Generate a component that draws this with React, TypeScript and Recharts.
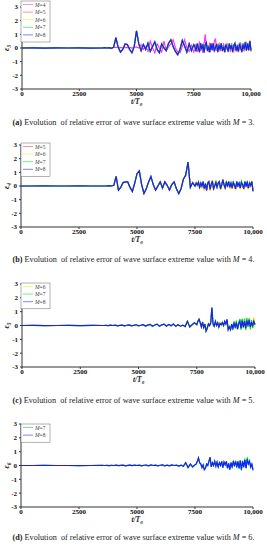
import React from "react";
import { LineChart, Line, XAxis, YAxis } from "recharts";

// time grid: coarse where nothing happens, finer where the error gets noisy
const tGrid: number[] = [];
for (let t = 0; t <= 3500; t += 500) tGrid.push(t);
for (let t = 3600; t <= 7500; t += 100) tGrid.push(t);
for (let t = 7550; t <= 10000; t += 50) tGrid.push(t);

const xTicks = [0, 2500, 5000, 7500, 10000];
const yTicks = [-3, -2, -1, 0, 1, 2, 3];

// ---- panel (a), M = 3
const aM8 = [
  0, 0.01, -0.01, 0.01, 0, 0.01, -0.01, 0,
  0.02, 0, 0.03, -0.02, 0.05, 0.75, 0.05, -0.3, -0.1, 0.3, 0.25, -0.1, -0.35, 0.1,
  1.25, 0.3, -0.2, 0.25, -0.1, 0.35, -0.25, 0.1, 0.45, -0.1,
  -0.35, 0.3, 0, -0.2, 0.35, 0.6, 0.1, -0.25, -0.5, -0.1,
  0.55, 0.15, -0.3, 0.3, -0.2, 0.25,
  0.1, -0.25, 0.3, 0, -0.3, 0.35, -0.1, 0.25, -0.35, 0.2,
  0.4, -0.2, 0.1, -0.3, 0.3, -0.15, 0.35, -0.25, 0.05, 0.3,
  -0.3, 0.2, -0.1, 0.35, -0.2, 0.1, -0.3, 0.25, 0, -0.25,
  0.3, -0.1, 0.2, -0.3, 0.15, 0.35, -0.2, 0.1, -0.25, 0.3,
  0, -0.3, 0.25, -0.1, 0.4, -0.2, 0.3, -0.15, 0.5, -0.2,
];
const aM4Tail = [
  0.05, 0.03, 0.05, 0.02, 0.05, 0.03, 0.05, 0, 0.05,
  0.08, 0, 0.25, -0.1, 0.1, -0.25, 0.5, 0, -0.35, 0.3,
  0, -0.3, 0.5, -0.2, 0.1, 0.3, 0.6, 0, -0.3, -0.35,
  0.1, 0.6, 0, -0.25, 0.2, -0.3,
  -0.1, 0.3, -0.3, 0.2, 0.4, -0.2, 0.1, -0.35, 0.3, 1.0,
  -0.1, 0.2, -0.3, 0.4, 0, 0.3, -0.2, 0.5, 0.7, -0.2,
  0.1, 0.3, -0.25, 0.2, -0.1, 0.35, -0.3, 0.1, 0.3, -0.2,
  0.2, -0.3, 0.35, 0, -0.2, 0.3, -0.1, 0.25, -0.3, 0.2,
  0.35, -0.1, 0.3, -0.25, 0.2, 0.45, -0.1, 0.3, 0.1, -0.1,
];
const aM5Tail = [
  0.15, -0.2, 0.35, -0.05, -0.25, 0.3, -0.15, 0.3, -0.3, 0.25,
  0.35, -0.25, 0.2, -0.25, 0.35, -0.1, 0.3, -0.3, 0.1, 0.25,
  -0.25, 0.3, -0.15, 0.3, -0.25, 0.15, -0.25, 0.3, 0.05, -0.3,
  0.35, -0.05, 0.25, -0.25, 0.2, 0.3, -0.25, 0.15, -0.3, 0.35,
  0.05, -0.25, 0.3, -0.15, 0.45, -0.15, 0.35, -0.2, 0.55, -0.25,
];
const aM6Tail = [
  0.05, -0.3, 0.25, 0.05, -0.35, 0.4, -0.05, 0.2, -0.3, 0.3,
  0.3, -0.15, 0.15, -0.35, 0.25, -0.2, 0.4, -0.2, 0, 0.35,
  -0.35, 0.25, -0.05, 0.4, -0.15, 0.05, -0.35, 0.2, 0.1, -0.2,
  0.25, -0.15, 0.3, -0.35, 0.1, 0.4, -0.15, 0.05, -0.2, 0.25,
  -0.05, -0.35, 0.2, -0.05, 0.35, -0.25, 0.4, -0.1, 0.6, -0.3,
];
const aM7Tail = [
  0.1, -0.2, 0.3, 0.05, -0.3, 0.3, -0.1, 0.3, -0.3, 0.25,
  0.35, -0.2, 0.15, -0.3, 0.3, -0.1, 0.3, -0.2, 0.1, 0.25,
  -0.25, 0.25, -0.1, 0.3, -0.15, 0.2, -0.3, 0.2, 0.1, -0.2,
  0.35, -0.05, 0.2, -0.25, 0.25, 0.3, -0.15, 0.2, -0.25, 0.4,
  0.05, -0.25, 0.35, -0.05, 0.45, -0.15, 0.35, -0.1, 0.5, -0.15,
];

// ---- panel (b), M = 4
const bM8 = [
  0, 0, 0.01, 0, 0, 0.01, 0, 0,
  0, 0.01, 0.03, 0, 0.05, 0.7, -0.3, -0.1, 0.25, 0.3, 0.3, -0.1, -0.4, 0.2,
  0.9, 1.1, 0.1, -0.55, -0.2, 0.3, 0.7, 0.1, -0.3, 0,
  0.3, -0.15, 0.3, 0.05, -0.3, 0.1, 0.3, -0.2, -0.55, -0.2,
  0.5, 0.8, 1.75, -0.1, 0.25, 0,
  0.2, 0.1, 0.25, -0.1, 0.2, 0, 0.3, -0.2, 0.15, -0.3,
  0.2, 0.3, -0.25, 0.1, 0.35, -0.2, 0, 0.25, -0.1, 0.2,
  0.3, -0.2, 0.05, 0.45, 0.1, -0.15, 0.25, 0, 0.3, -0.1,
  0.2, -0.15, 0.25, 0.05, -0.2, 0.3, 0, 0.2, -0.15, 0.25,
  0.1, -0.2, 0.3, 0, 0.25, -0.15, 0.2, 0.05, 0.3, -0.4,
];
const bM5Tail = [
  0.25, 0.05, 0.3, -0.15, 0.25, -0.05, 0.3, -0.3, 0.2, -0.35,
  0.25, 0.35, -0.3, 0.15, 0.4, -0.25, 0.05, 0.3, -0.15, 0.25,
  0.35, -0.25, 0.1, 0.5, 0.05, -0.2, 0.3, -0.05, 0.35, -0.15,
  0.25, -0.2, 0.3, 0, -0.25, 0.35, -0.05, 0.25, -0.2, 0.3,
  0.15, -0.25, 0.35, -0.05, 0.3, -0.2, 0.25, 0, 0.35, -0.35,
];
const bM6Tail = [
  0.15, 0.15, 0.2, -0.2, 0.15, 0.05, 0.25, -0.3, 0.1, -0.25,
  0.15, 0.25, -0.35, 0.05, 0.3, -0.3, 0.05, 0.2, -0.2, 0.15,
  0.25, -0.3, 0, 0.4, 0.15, -0.25, 0.2, 0.05, 0.25, -0.2,
  0.15, -0.25, 0.2, 0.1, -0.3, 0.25, 0.05, 0.15, -0.25, 0.2,
  0.2, -0.3, 0.25, 0.05, 0.3, -0.25, 0.15, 0.1, 0.4, -0.3,
];
const bM7Tail = [
  0.2, 0.05, 0.3, -0.05, 0.25, -0.05, 0.35, -0.15, 0.2, -0.3,
  0.25, 0.3, -0.2, 0.15, 0.3, -0.15, 0.05, 0.3, -0.05, 0.25,
  0.3, -0.15, 0.1, 0.4, 0.15, -0.1, 0.3, 0.05, 0.35, -0.05,
  0.25, -0.1, 0.3, 0.1, -0.15, 0.35, 0.05, 0.25, -0.1, 0.35,
  0.1, -0.15, 0.35, 0.05, 0.3, -0.1, 0.25, 0.1, 0.35, -0.3,
];

// ---- panel (c), M = 5
const cM8 = [
  0, 0.01, -0.01, 0, 0.01, -0.01, 0.01, 0,
  0.01, -0.01, 0.02, 0, 0.02, -0.02, 0.01, 0.03, -0.02, 0.02, 0.04, -0.03, 0.02, 0.05,
  -0.03, 0.02, 0.06, -0.04, 0.03, 0.08, -0.05, 0.04, 0.1, -0.06,
  0.05, 0.1, -0.05, 0.08, -0.02, 0.1, -0.06, 0.05, -0.05, 0.03,
  -0.08, 0.3, -0.1, 0.05, 0.2, 0.05,
  0.3, 0.45, 0.2, -0.1, 0.25, -0.15, 0.1, -0.4, -0.2, 0.1,
  0, 0.2, 1.3, 0.1, -0.05, 0.3, 0, 0.2, -0.1, 0.15,
  0.05, 0.2, 0, 0.3, 0.1, 0.45, -0.3, -0.1, -0.3, 0.1,
  -0.2, 0.15, -0.1, 0.2, -0.25, 0.1, 0.3, -0.2, 0.35, -0.1,
  0.3, -0.2, 0.35, 0, 0.4, -0.1, 0.2, 0, 0.3, 0.05,
];
const cM6Tail = [
  0.3, 0.4, 0.1, -0.2, 0.3, -0.25, 0.15, -0.35, -0.3, 0.15,
  -0.05, 0.25, 1.2, 0, -0.1, 0.25, 0.05, 0.15, -0.15, 0.2,
  0, 0.25, -0.05, 0.25, 0.15, 0.4, -0.35, -0.05, -0.35, 0.15,
  -0.3, 0.25, -0.2, 0.3, -0.3, 0.2, 0.4, -0.3, 0.45, -0.2,
  0.45, -0.35, 0.5, -0.1, 0.55, -0.3, 0.35, -0.15, 0.6, -0.1,
];
const cM7Tail = [
  -0.3, 0.3, -0.2, 0.35, -0.3, 0.2, 0.45, -0.3, 0.5, -0.2,
  0.5, -0.3, 0.55, -0.1, 0.5, -0.25, 0.4, -0.2, 0.3, 0.1,
];

// ---- panel (d), M = 6
const dM8 = [
  0, 0, 0.01, 0, 0, -0.01, 0, 0.01,
  0, 0.01, -0.01, 0.01, 0, 0.02, -0.01, 0.01, 0.02, -0.02, 0.01, 0.02, -0.01, 0.02,
  0, 0.03, -0.02, 0.02, 0.03, -0.02, 0.04, 0, 0.03, -0.03,
  0.02, 0.04, -0.02, 0.03, -0.03, 0.04, 0, 0.02, -0.04, 0.03,
  -0.05, 0.2, -0.15, 0.1, -0.1, 0.05,
  0.1, 0.3, 0.55, 0.2, 0.1, -0.15, 0.05, -0.3, -0.2, 0.1,
  0, 0.3, 0.6, -0.1, 0.2, 0, 0.3, -0.05, 0.25, -0.1,
  0.2, 0, 0.3, -0.15, 0.25, 0.05, 0.3, -0.2, 0.15, -0.3,
  0.2, -0.1, 0.25, 0, 0.3, -0.1, 0.3, -0.2, 0.35, -0.3,
  0.3, -0.1, 0.4, -0.2, 0.45, 0.1, 0.3, -0.1, 0.1, -0.35,
];
const dM7Tail = [
  0.25, -0.15, 0.35, -0.05, 0.35, -0.2, 0.3, -0.25, 0.4, -0.35,
  0.35, -0.15, 0.5, -0.2, 0.6, 0.15, 0.35, -0.2, 0.15, -0.3,
];

// a variant equals the M=8 run until it splits off, then its own values
const follow = (base: number[], tail: number[]) => [
  ...base.slice(0, base.length - tail.length),
  ...tail,
];

const COLORS: Record<string, string> = {
  "4": "#ff33ff",
  "5": "#ff3a3a",
  "6": "#ffe600",
  "7": "#00d840",
  "8": "#1c1cff",
};

const panels = [
  {
    tag: "a", M: "3", left: 22, right: 251, top: 7, bottom: 89, legendTop: 1, caption: 122,
    series: {
      "4": follow(aM8, aM4Tail), "5": follow(aM8, aM5Tail), "6": follow(aM8, aM6Tail),
      "7": follow(aM8, aM7Tail), "8": aM8,
    } as Record<string, number[]>,
  },
  {
    tag: "b", M: "4", left: 21, right: 253, top: 145, bottom: 227, legendTop: 143, caption: 259,
    series: {
      "5": follow(bM8, bM5Tail), "6": follow(bM8, bM6Tail), "7": follow(bM8, bM7Tail), "8": bM8,
    } as Record<string, number[]>,
  },
  {
    tag: "c", M: "5", left: 22, right: 255, top: 284, bottom: 367, legendTop: 283, caption: 400,
    series: {
      "6": follow(cM8, cM6Tail), "7": follow(cM8, cM7Tail), "8": cM8,
    } as Record<string, number[]>,
  },
  {
    tag: "d", M: "6", left: 21, right: 253, top: 424, bottom: 507, legendTop: 424, caption: 537,
    series: { "7": follow(dM8, dM7Tail), "8": dM8 } as Record<string, number[]>,
  },
];

const FONT = "'Liberation Serif', 'DejaVu Serif', serif";
const tickStyle = { fontSize: 7, fontWeight: 700, fill: "#111", fontFamily: FONT };

function Panel({ p }: { p: (typeof panels)[number] }) {
  const keys = Object.keys(p.series);
  const rows = tGrid.map((t, i) => {
    const row: Record<string, number> = { t };
    keys.forEach((k) => (row["m" + k] = p.series[k][i]));
    return row;
  });
  const mt = 4;
  return (
    <div style={{ position: "absolute", left: 0, top: p.top - mt }}>
      <LineChart
        width={267}
        height={p.bottom - p.top + mt + 14}
        data={rows}
        margin={{ top: mt, right: 267 - p.right, bottom: 0, left: 0 }}
      >
        <XAxis
          dataKey="t"
          type="number"
          domain={[0, 10000]}
          ticks={xTicks}
          tickFormatter={(v) => (v === 10000 ? "10,000" : String(v))}
          tick={tickStyle}
          tickSize={2}
          tickMargin={0}
          height={14}
          stroke="#333"
          interval={0}
        />
        <YAxis
          type="number"
          domain={[-3, 3]}
          ticks={yTicks}
          tick={tickStyle}
          tickSize={2}
          tickMargin={2}
          width={p.left}
          stroke="#333"
          interval={0}
          allowDataOverflow
        />
        {keys.map((k) => (
          <Line
            key={k}
            dataKey={"m" + k}
            stroke={COLORS[k]}
            strokeWidth={1.2}
            dot={false}
            isAnimationActive={false}
            type="linear"
          />
        ))}
      </LineChart>
    </div>
  );
}

function Labels({ p }: { p: (typeof panels)[number] }) {
  const keys = Object.keys(p.series);
  const zeroY = (p.top + p.bottom) / 2;
  const rowH = 7.6;
  return (
    <g fontFamily={FONT}>
      <text
        transform={`translate(9, ${zeroY}) rotate(-90)`}
        textAnchor="middle"
        fontSize={8}
        fontWeight={700}
        fontStyle="italic"
        fill="#222"
      >
        ε<tspan fontSize={5.5} dy={2}>{p.M}</tspan>
      </text>
      <text x={(p.left + p.right) / 2} y={p.bottom + 15} textAnchor="middle" fontSize={7.5} fontWeight={700} fontStyle="italic" fill="#222">
        t/T<tspan fontSize={5} dy={2}>0</tspan>
      </text>
      <rect x={21} y={p.legendTop} width={29} height={keys.length * rowH + 3} fill="#fff" stroke="#666" strokeWidth={0.5} />
      {keys.map((k, i) => {
        const y = p.legendTop + 3.5 + i * rowH;
        return (
          <g key={k}>
            <line x1={23} x2={33} y1={y} y2={y} stroke={COLORS[k]} strokeOpacity={0.55} strokeWidth={1} />
            <text x={35} y={y + 2} fontSize={5.5} fill="#444">
              <tspan fontStyle="italic">M</tspan>=<tspan>{k}</tspan>
            </text>
          </g>
        );
      })}
      <text x={133.5} y={p.caption + 2.5} textAnchor="middle" fontSize={7.2} fill="#222" textLength={242} lengthAdjust="spacingAndGlyphs" style={{ whiteSpace: "pre" }}>
        <tspan fontWeight={700}>({p.tag})</tspan>
        {" Evolution  of relative error of wave surface extreme value with "}
        <tspan fontStyle="italic">M</tspan>
        {" = " + p.M + "."}
      </text>
    </g>
  );
}

export default function App() {
  return (
    <div style={{ position: "absolute", left: 0, top: 0, width: 267, height: 550, background: "#fff" }}>
      {panels.map((p) => (
        <Panel key={p.tag} p={p} />
      ))}
      <svg width={267} height={550} style={{ position: "absolute", left: 0, top: 0, pointerEvents: "none" }}>
        {panels.map((p) => (
          <Labels key={p.tag} p={p} />
        ))}
      </svg>
    </div>
  );
}
